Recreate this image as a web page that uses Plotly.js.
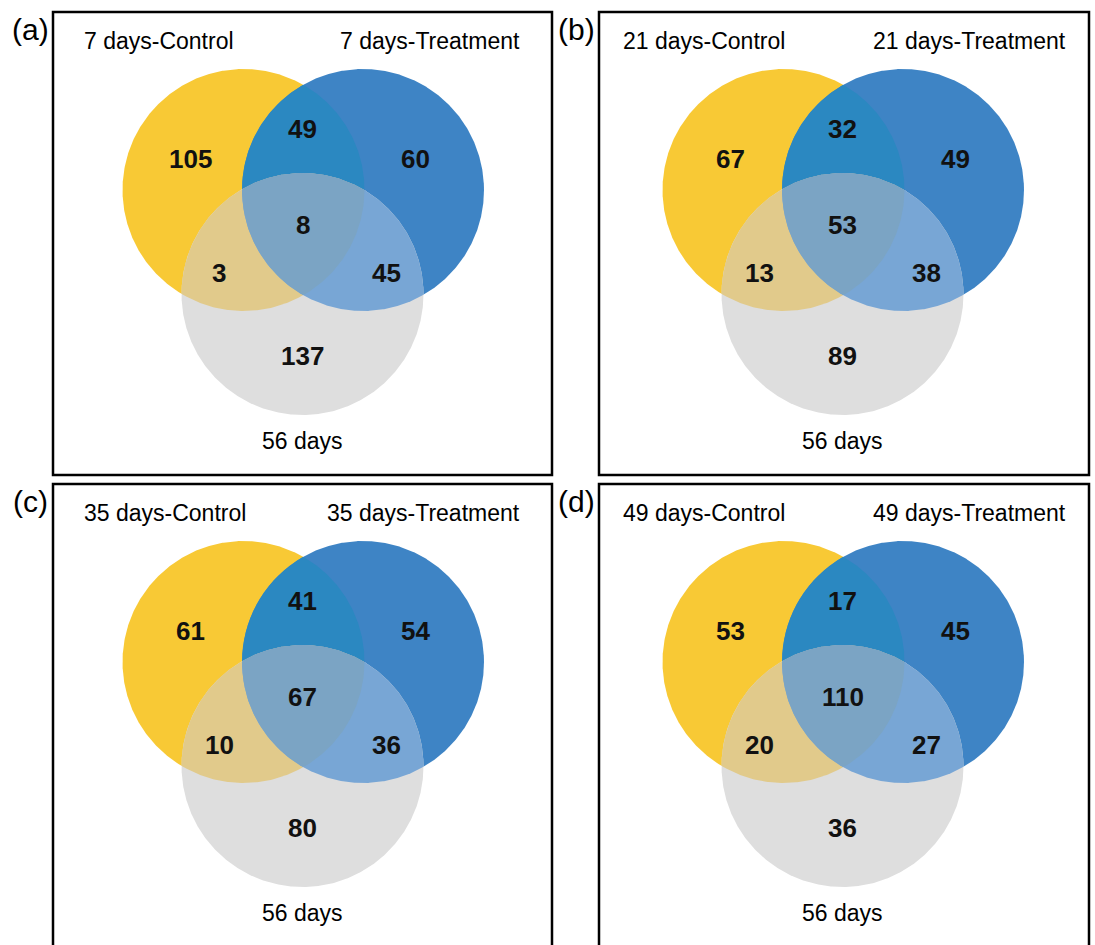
<!DOCTYPE html>
<html>
<head>
<meta charset="utf-8">
<script src="https://cdn.plot.ly/plotly-3.0.1.min.js"></script>
<style>
  html, body { margin: 0; padding: 0; background: #ffffff; }
  #chart { width: 1095px; height: 945px; }
</style>
</head>
<body>
<div id="chart"></div>
<script>
// Panel tags and set names
const panelTags = ['(a)', '(b)', '(c)', '(d)'];
const controlLabels = ['7 days-Control', '21 days-Control', '35 days-Control', '49 days-Control'];
const treatmentLabels = ['7 days-Treatment', '21 days-Treatment', '35 days-Treatment', '49 days-Treatment'];
const referenceLabel = '56 days';

// Counts for each Venn region, one entry per panel
const onlyControl      = [105, 67, 61, 53];
const controlTreatment = [49, 32, 41, 17];
const onlyTreatment    = [60, 49, 54, 45];
const allThree         = [8, 53, 67, 110];
const controlReference = [3, 13, 10, 20];
const treatmentReference = [45, 38, 36, 27];
const onlyReference    = [137, 89, 80, 36];

// ---- layout geometry (pixel-like units, y grows downward) ----
const W = 1095, H = 945;
const colOffset = [0, 540];
const rowOffset = [0, 472];
const boxX = [[53, 552], [599, 1089]];
const boxY = [[12, 475], [484, 947]];
const ctrlLabelLeft = [82, 621];
const treatLabelRight = [522, 1068];
const tagX = [30, 576];

// circle centres/radius within one panel
const R = 121;
const circles = {
  control:   {cx: 243.5, cy: 190},
  treatment: {cx: 363,   cy: 190},
  reference: {cx: 302.5, cy: 294}
};
// anchor of each region's count within one panel
const regionAnchor = {
  onlyControl:        [190, 159],
  controlTreatment:   [302.5, 129],
  onlyTreatment:      [415, 159],
  allThree:           [302.5, 225],
  controlReference:   [219, 272.5],
  treatmentReference: [386, 273],
  onlyReference:      [302.5, 356]
};

const colors = {
  control: '#F8C935',
  treatment: '#3E84C5',
  reference: '#DEDEDE',
  controlTreatment: '#2B88C1',
  controlReference: '#E1CA8B',
  treatmentReference: '#78A6D5',
  allThree: '#7BA4C4'
};

const FONT = 'Liberation Sans, Arial, Helvetica, sans-serif';
const N = 720;

function circlePoints(c) {
  const pts = [];
  for (let i = 0; i < N; i++) {
    const t = 2 * Math.PI * i / N;
    pts.push([c.cx + R * Math.cos(t), c.cy + R * Math.sin(t)]);
  }
  return pts;
}

function inside(p, c) {
  const dx = p[0] - c.cx, dy = p[1] - c.cy;
  return dx * dx + dy * dy <= R * R + 1e-6;
}

// intersection of circles (convex): boundary points that lie in all, sorted by angle
function intersection(list) {
  let pts = [];
  list.forEach((c, i) => {
    circlePoints(c).forEach(p => {
      if (list.every((o, j) => j === i || inside(p, o))) pts.push(p);
    });
  });
  const mx = pts.reduce((s, p) => s + p[0], 0) / pts.length;
  const my = pts.reduce((s, p) => s + p[1], 0) / pts.length;
  pts.sort((a, b) => Math.atan2(a[1] - my, a[0] - mx) - Math.atan2(b[1] - my, b[0] - mx));
  return pts;
}

function shifted(c, dx, dy) { return {cx: c.cx + dx, cy: c.cy + dy}; }

function polyTrace(pts, color) {
  const x = pts.map(p => p[0]); x.push(pts[0][0]);
  const y = pts.map(p => p[1]); y.push(pts[0][1]);
  return {
    type: 'scatter', mode: 'lines', x: x, y: y,
    fill: 'toself', fillcolor: color,
    line: {width: 0, color: color},
    hoverinfo: 'skip', showlegend: false
  };
}

const traces = [];
const annotations = [];
const shapes = [];

for (let k = 0; k < 4; k++) {
  const col = k % 2, row = Math.floor(k / 2);
  const dx = colOffset[col], dy = rowOffset[row];
  const A = shifted(circles.control, dx, dy);
  const B = shifted(circles.treatment, dx, dy);
  const C = shifted(circles.reference, dx, dy);

  // single sets first, then pairwise overlaps, then the triple overlap on top
  traces.push(polyTrace(circlePoints(A), colors.control));
  traces.push(polyTrace(circlePoints(B), colors.treatment));
  traces.push(polyTrace(circlePoints(C), colors.reference));
  traces.push(polyTrace(intersection([A, B]), colors.controlTreatment));
  traces.push(polyTrace(intersection([A, C]), colors.controlReference));
  traces.push(polyTrace(intersection([B, C]), colors.treatmentReference));
  traces.push(polyTrace(intersection([A, B, C]), colors.allThree));

  // frame
  shapes.push({
    type: 'rect', xref: 'x', yref: 'y',
    x0: boxX[col][0], x1: boxX[col][1], y0: boxY[row][0], y1: boxY[row][1],
    line: {color: '#000000', width: 2.5}, fillcolor: 'rgba(0,0,0,0)', layer: 'above'
  });

  // counts
  const counts = {
    onlyControl: onlyControl[k], controlTreatment: controlTreatment[k],
    onlyTreatment: onlyTreatment[k], allThree: allThree[k],
    controlReference: controlReference[k], treatmentReference: treatmentReference[k],
    onlyReference: onlyReference[k]
  };
  Object.keys(counts).forEach(key => {
    const a = regionAnchor[key];
    annotations.push({
      x: a[0] + dx, y: a[1] + dy, xref: 'x', yref: 'y',
      text: '<b>' + counts[key] + '</b>', showarrow: false,
      xanchor: 'center', yanchor: 'middle',
      font: {family: FONT, size: 26, color: '#111111'}
    });
  });

  // set names
  const top = 41 + dy;
  annotations.push({
    x: ctrlLabelLeft[col], y: top, xref: 'x', yref: 'y', text: controlLabels[k],
    showarrow: false, xanchor: 'left', yanchor: 'middle',
    font: {family: FONT, size: 23, color: '#000000'}
  });
  annotations.push({
    x: treatLabelRight[col], y: top, xref: 'x', yref: 'y', text: treatmentLabels[k],
    showarrow: false, xanchor: 'right', yanchor: 'middle',
    font: {family: FONT, size: 23, color: '#000000'}
  });
  annotations.push({
    x: circles.reference.cx + dx, y: 441 + dy, xref: 'x', yref: 'y', text: referenceLabel,
    showarrow: false, xanchor: 'center', yanchor: 'middle',
    font: {family: FONT, size: 23, color: '#000000'}
  });

  // panel tag
  annotations.push({
    x: tagX[col], y: 29 + dy, xref: 'x', yref: 'y', text: panelTags[k],
    showarrow: false, xanchor: 'center', yanchor: 'middle',
    font: {family: FONT, size: 30, color: '#000000'}
  });
}

const hiddenAxis = {
  showgrid: false, zeroline: false, showticklabels: false, ticks: '',
  showline: false, fixedrange: true
};

const layout = {
  width: W, height: H,
  margin: {l: 0, r: 0, t: 0, b: 0, pad: 0},
  paper_bgcolor: '#ffffff', plot_bgcolor: '#ffffff',
  xaxis: Object.assign({range: [0, W]}, hiddenAxis),
  yaxis: Object.assign({range: [H, 0]}, hiddenAxis),
  shapes: shapes,
  annotations: annotations,
  showlegend: false
};

Plotly.newPlot('chart', traces, layout, {displayModeBar: false, staticPlot: true});
</script>
</body>
</html>
